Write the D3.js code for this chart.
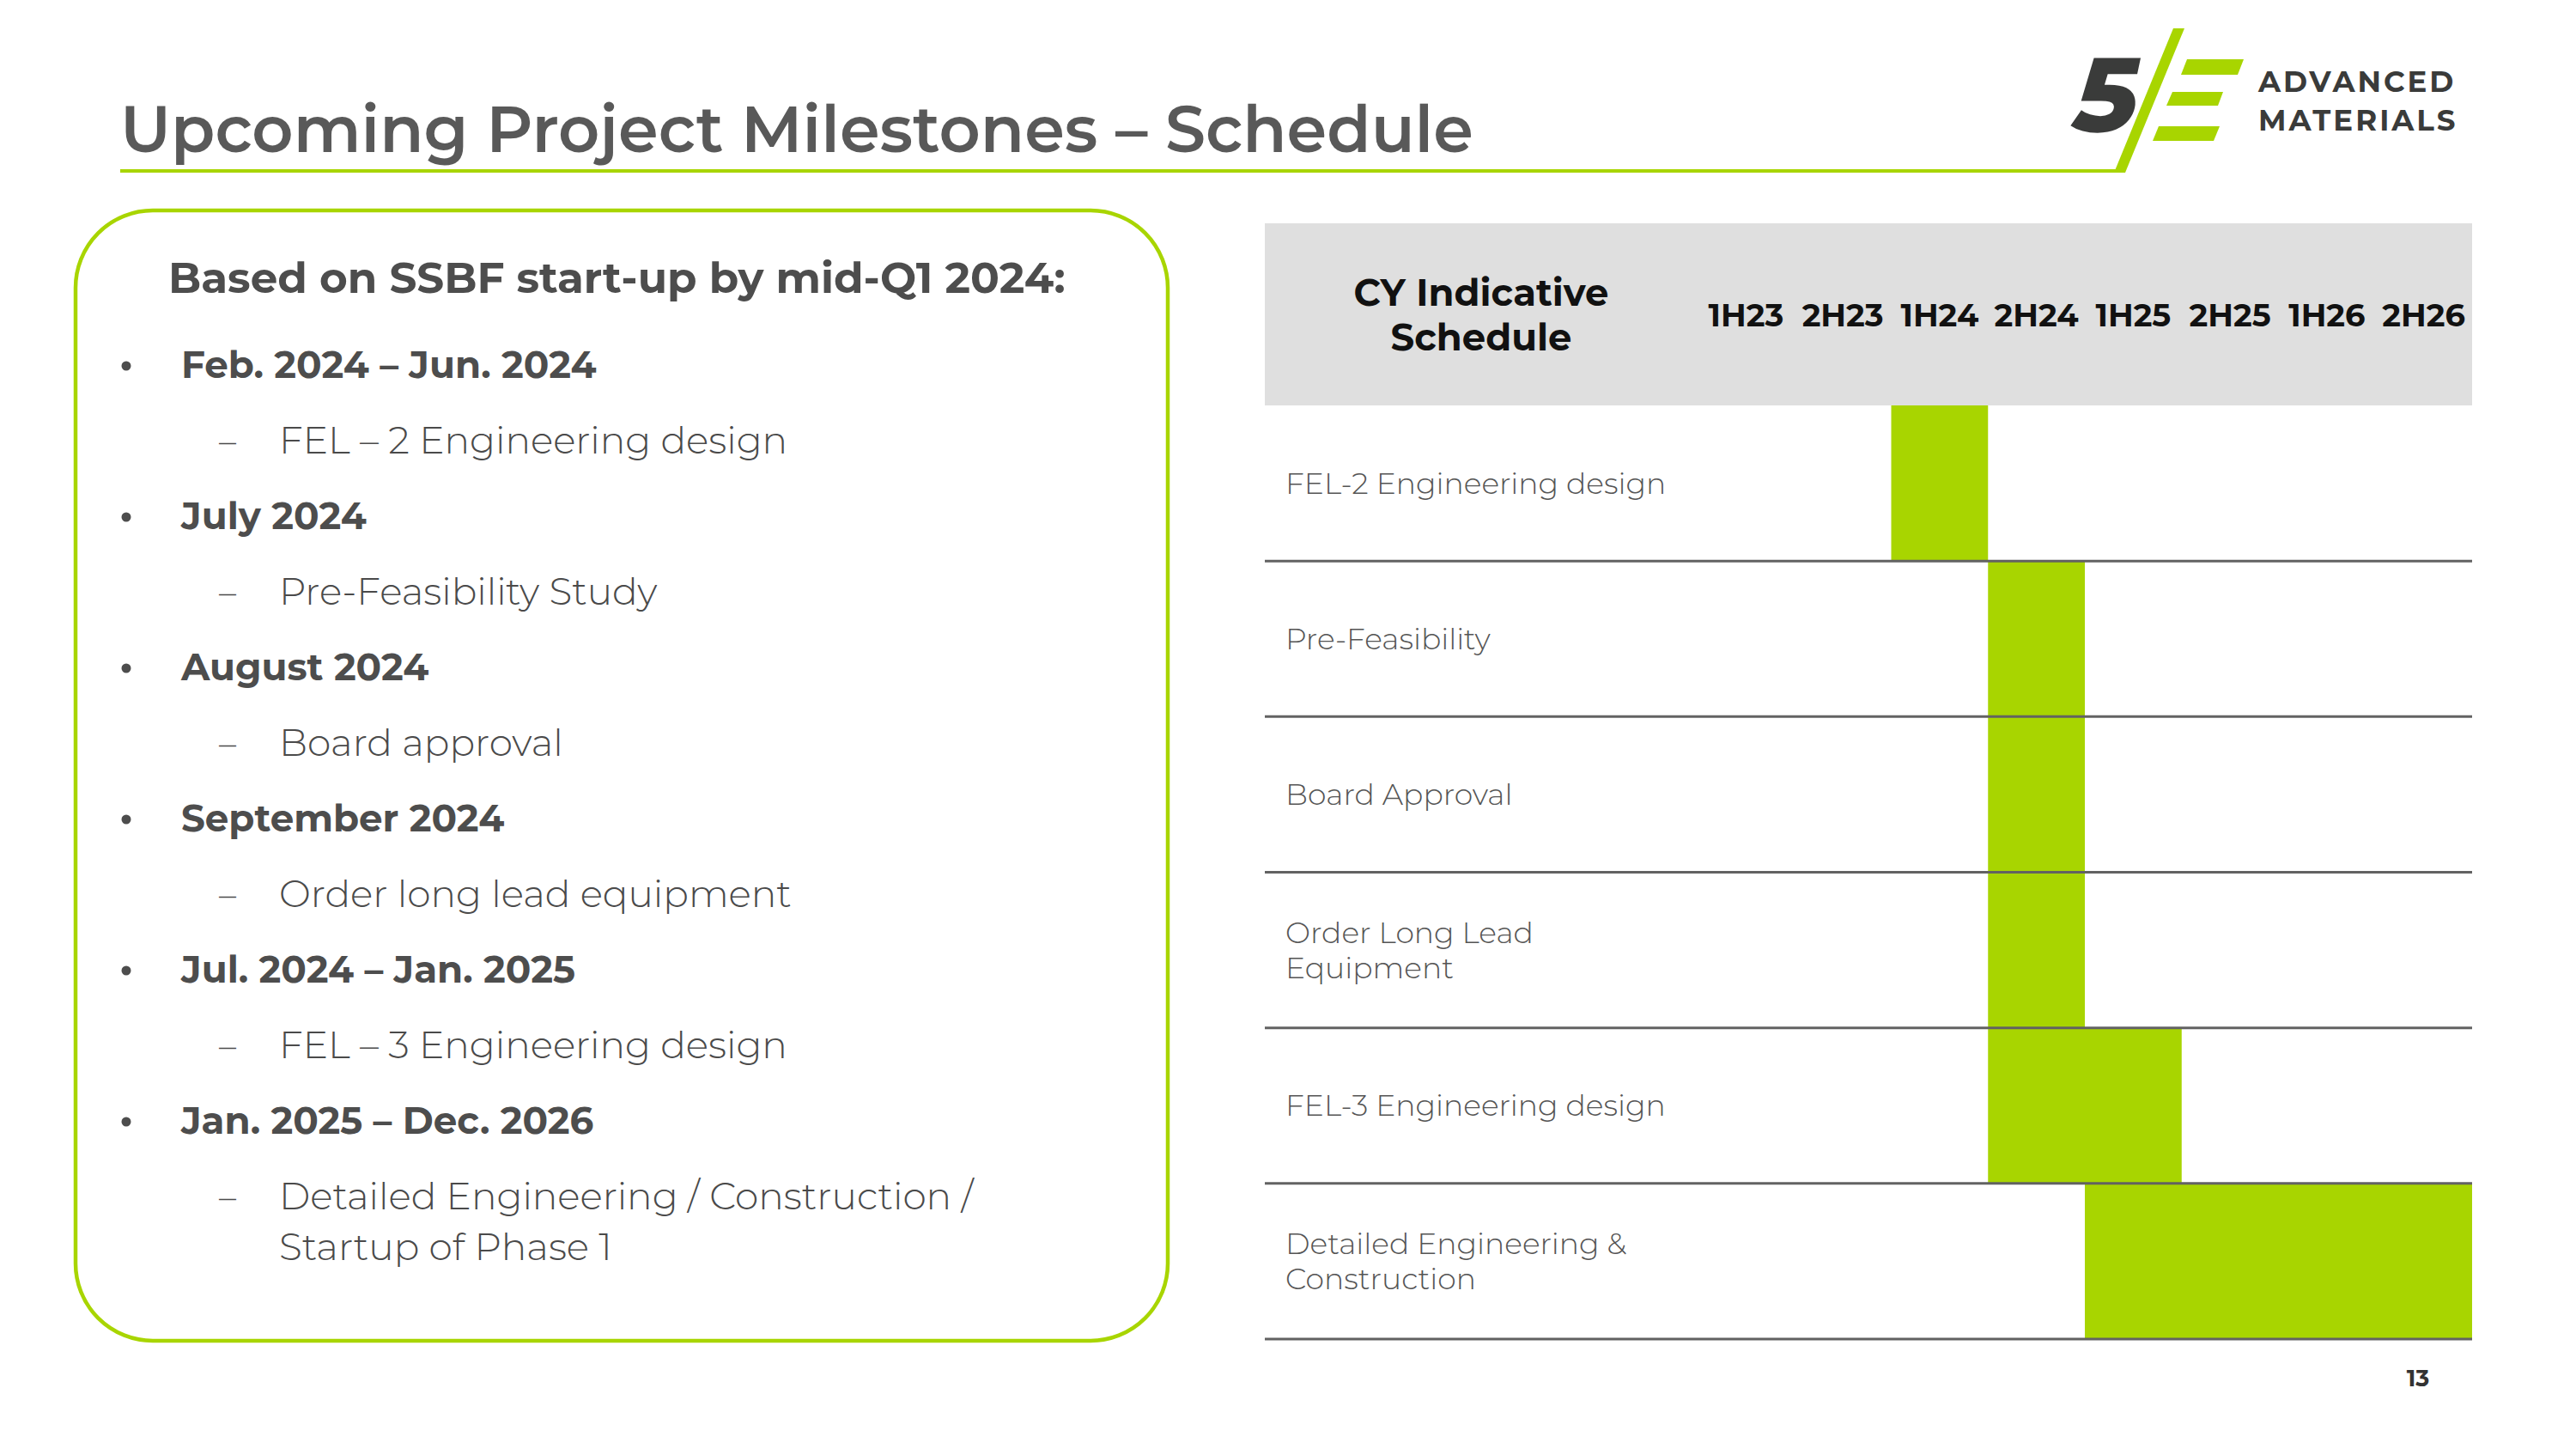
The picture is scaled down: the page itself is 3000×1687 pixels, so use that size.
<!DOCTYPE html>
<html>
<head>
<meta charset="utf-8">
<script src="https://cdn.jsdelivr.net/npm/d3@7/dist/d3.min.js"></script>
<style>
  html, body { margin: 0; padding: 0; background: #fff; }
  svg { display: block; }
  text { font-family: "Montserrat", "Inter", "Open Sans", sans-serif; }
</style>
</head>
<body>
<svg id="chart" width="3000" height="1687"></svg>
<script>
// ---------------- DATA ----------------
const titleText = "Upcoming Project Milestones \u2013 Schedule";
const boxHeading = "Based on SSBF start-up by mid-Q1 2024:";
const milestoneDates = [
  "Feb. 2024 \u2013 Jun. 2024",
  "July 2024",
  "August 2024",
  "September 2024",
  "Jul. 2024 \u2013 Jan. 2025",
  "Jan. 2025 \u2013 Dec. 2026"
];
const milestoneDetails = [
  ["FEL \u2013 2 Engineering design"],
  ["Pre-Feasibility Study"],
  ["Board approval"],
  ["Order long lead equipment"],
  ["FEL \u2013 3 Engineering design"],
  ["Detailed Engineering / Construction /", "Startup of Phase 1"]
];
const headerLabel = ["CY Indicative", "Schedule"];
const periods = ["1H23", "2H23", "1H24", "2H24", "1H25", "2H25", "1H26", "2H26"];
const tasks = [
  "FEL-2 Engineering design",
  "Pre-Feasibility",
  "Board Approval",
  "Order Long Lead Equipment",
  "FEL-3 Engineering design",
  "Detailed Engineering & Construction"
];
const taskLabelLines = [
  ["FEL-2 Engineering design"],
  ["Pre-Feasibility"],
  ["Board Approval"],
  ["Order Long Lead", "Equipment"],
  ["FEL-3 Engineering design"],
  ["Detailed Engineering &", "Construction"]
];
const taskStart = ["1H24", "2H24", "2H24", "2H24", "2H24", "1H25"];
const taskEnd   = ["1H24", "2H24", "2H24", "2H24", "1H25", "2H26"];
const pageNumber = "13";
const logoWords = ["ADVANCED", "MATERIALS"];

// ---------------- STYLE / LAYOUT ----------------
const GREEN = "#a8d500";
const svg = d3.select("#chart");

function fitGroup(sel, refNode, targetW) {
  const w = refNode.getComputedTextLength();
  const fs = parseFloat(d3.select(refNode).attr("font-size"));
  const nfs = fs * targetW / w;
  sel.attr("font-size", nfs);
  return nfs;
}

// Title
const title = svg.append("text")
  .attr("x", 140).attr("y", 177)
  .attr("font-size", 76).attr("font-weight", 600)
  .attr("fill", "#595959")
  .text(titleText);
fitGroup(title, title.node(), 1576);

// Underline
svg.append("rect").attr("x", 140).attr("y", 197).attr("width", 2333).attr("height", 4).attr("fill", GREEN);

// Logo
const logo = svg.append("g");
logo.append("polygon").attr("points", "2462,201 2475,201 2544,33 2531,33").attr("fill", GREEN);
logo.append("polygon").attr("points", "2547,69 2613,69 2606,87 2540,87").attr("fill", GREEN);
logo.append("polygon").attr("points", "2530,107 2589,107 2583,123 2523,123").attr("fill", GREEN);
logo.append("polygon").attr("points", "2514,147 2585,147 2578,164 2507,164").attr("fill", GREEN);
logo.append("text")
  .attr("x", 2446).attr("y", 153)
  .attr("text-anchor", "middle")
  .attr("font-size", 122).attr("font-weight", 800)
  .attr("fill", "#3a3b3a")
  .attr("transform", "translate(2446,153) skewX(-12) translate(-2446,-153)")
  .text("5");
logoWords.forEach((w, i) => {
  logo.append("text")
    .attr("x", 2630).attr("y", 107 + i * 45)
    .attr("font-size", 34).attr("font-weight", 700)
    .attr("letter-spacing", 3)
    .attr("fill", "#3a3b3a")
    .text(w);
});

// Left rounded box
svg.append("rect")
  .attr("x", 88).attr("y", 245).attr("width", 1272).attr("height", 1316)
  .attr("rx", 90).attr("ry", 90)
  .attr("fill", "none").attr("stroke", GREEN).attr("stroke-width", 4.5);

const heading = svg.append("text")
  .attr("x", 196).attr("y", 323).attr("dy", "0.35em")
  .attr("font-size", 48).attr("font-weight", 700)
  .attr("fill", "#4d4d4d")
  .text(boxHeading);
fitGroup(heading, heading.node(), 1045);

const itemY = d3.scaleLinear().domain([0, 1]).range([425, 601]);
const list = svg.append("g");
const dateTexts = list.selectAll("text.date").data(milestoneDates).join("text")
  .attr("class", "date")
  .attr("x", 211).attr("y", (d, i) => itemY(i)).attr("dy", "0.35em")
  .attr("font-size", 40).attr("font-weight", 700)
  .attr("fill", "#4d4d4d")
  .text(d => d);
fitGroup(dateTexts, dateTexts.nodes()[4], 459);
list.selectAll("circle.bullet").data(milestoneDates).join("circle")
  .attr("class", "bullet")
  .attr("cx", 147).attr("cy", (d, i) => itemY(i) + 1)
  .attr("r", 5.5)
  .attr("fill", "#4d4d4d");

const subLines = [];
milestoneDetails.forEach((lines, i) => lines.forEach((l, j) => subLines.push({ text: l, i, j })));
const subTexts = list.selectAll("text.sub").data(subLines).join("text")
  .attr("class", "sub")
  .attr("x", 325).attr("y", d => itemY(d.i + 0.5) + d.j * 59).attr("dy", "0.35em")
  .attr("font-size", 40).attr("font-weight", 300)
  .attr("fill", "#4a4a4a")
  .text(d => d.text);
fitGroup(subTexts, subTexts.nodes()[4], 592);
list.selectAll("text.dash").data(milestoneDetails).join("text")
  .attr("class", "dash")
  .attr("x", 265).attr("y", (d, i) => itemY(i + 0.5)).attr("dy", "0.35em")
  .attr("text-anchor", "middle")
  .attr("font-size", 40).attr("font-weight", 300).attr("fill", "#4a4a4a")
  .text("\u2013");

// ---------------- Gantt table ----------------
const tableLeft = 1473, tableRight = 2879;
const headerTop = 260, headerBottom = 472, tableBottom = 1559;
const x = d3.scaleBand().domain(periods).range([1977, tableRight]).padding(0);
const y = d3.scaleBand().domain(tasks).range([headerBottom, tableBottom]).padding(0);

svg.append("rect")
  .attr("x", tableLeft).attr("y", headerTop)
  .attr("width", tableRight - tableLeft).attr("height", headerBottom - headerTop)
  .attr("fill", "#dfdfdf");

const hdr = svg.append("g").selectAll("text").data(headerLabel).join("text")
  .attr("x", 1725).attr("y", (d, i) => 341 + i * 52).attr("dy", "0.35em")
  .attr("text-anchor", "middle")
  .attr("font-size", 40).attr("font-weight", 700).attr("fill", "#111")
  .text(d => d);
fitGroup(hdr, hdr.nodes()[0], 297);

const colLabels = svg.append("g").selectAll("text").data(periods).join("text")
  .attr("x", d => x(d) + x.bandwidth() / 2).attr("y", 367).attr("dy", "0.35em")
  .attr("text-anchor", "middle")
  .attr("font-size", 37).attr("font-weight", 700).attr("fill", "#111")
  .text(d => d);
fitGroup(colLabels, colLabels.nodes()[1], 95);

// bars
svg.append("g").selectAll("rect").data(tasks).join("rect")
  .attr("x", (d, i) => x(taskStart[i]))
  .attr("y", d => y(d))
  .attr("width", (d, i) => x(taskEnd[i]) + x.bandwidth() - x(taskStart[i]))
  .attr("height", y.bandwidth())
  .attr("fill", GREEN);

// row lines
svg.append("g").selectAll("line").data(tasks).join("line")
  .attr("x1", tableLeft).attr("x2", tableRight)
  .attr("y1", d => y(d) + y.bandwidth()).attr("y2", d => y(d) + y.bandwidth())
  .attr("stroke", "#626262").attr("stroke-width", 3);

// row labels
const rowLabelData = [];
taskLabelLines.forEach((lines, i) => lines.forEach((l, j) => rowLabelData.push({ text: l, task: tasks[i], j, n: lines.length })));
const rowLabels = svg.append("g").selectAll("text").data(rowLabelData).join("text")
  .attr("x", 1497)
  .attr("y", d => y(d.task) + y.bandwidth() / 2 + (d.j - (d.n - 1) / 2) * 41)
  .attr("dy", "0.35em")
  .attr("font-size", 31).attr("font-weight", 300).attr("fill", "#555555")
  .text(d => d.text);
fitGroup(rowLabels, rowLabels.nodes()[5], 443);

// page number
svg.append("text")
  .attr("x", 2816).attr("y", 1605).attr("dy", "0.35em")
  .attr("text-anchor", "middle")
  .attr("font-size", 27).attr("font-weight", 700).attr("fill", "#333")
  .text(pageNumber);
</script>
</body>
</html>
